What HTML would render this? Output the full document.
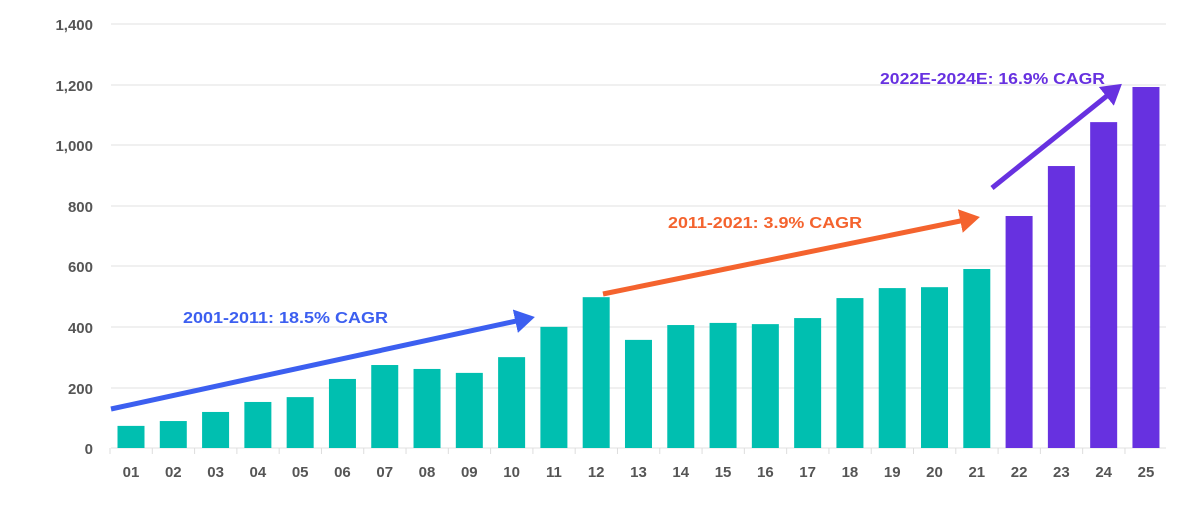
<!DOCTYPE html>
<html><head><meta charset="utf-8"><style>
html,body{margin:0;padding:0;background:#fff;}
svg{display:block;font-family:"Liberation Sans",Arial,sans-serif;}
</style></head><body>
<svg width="1198" height="506" viewBox="0 0 1198 506" xmlns="http://www.w3.org/2000/svg">
<g stroke="#e6e6e6" stroke-width="1.2">
<line x1="111" x2="1166" y1="24" y2="24"/>
<line x1="111" x2="1166" y1="85" y2="85"/>
<line x1="111" x2="1166" y1="145" y2="145"/>
<line x1="111" x2="1166" y1="206" y2="206"/>
<line x1="111" x2="1166" y1="266" y2="266"/>
<line x1="111" x2="1166" y1="327" y2="327"/>
<line x1="111" x2="1166" y1="388" y2="388"/>
<line x1="111" x2="1166" y1="448" y2="448"/>
</g>
<g fill="#555" font-size="15" font-weight="bold" text-anchor="end">
<text x="93" y="30">1,400</text>
<text x="93" y="91">1,200</text>
<text x="93" y="151">1,000</text>
<text x="93" y="212">800</text>
<text x="93" y="272">600</text>
<text x="93" y="333">400</text>
<text x="93" y="394">200</text>
<text x="93" y="454">0</text>
</g>
<g id="bars"></g>
<g id="labels" fill="#555" font-size="15" font-weight="bold" text-anchor="middle"></g>
<g id="ticks" stroke="#ddd"></g>
<defs>
<marker id="mb" markerWidth="6" markerHeight="6" refX="3" refY="3" orient="auto" markerUnits="strokeWidth"><path d="M0,0.6 L4,3 L0,5.4 z" fill="#3c5ff0"/></marker>
<marker id="mo" markerWidth="6" markerHeight="6" refX="3" refY="3" orient="auto" markerUnits="strokeWidth"><path d="M0,0.6 L4,3 L0,5.4 z" fill="#f4632e"/></marker>
<marker id="mp" markerWidth="6" markerHeight="6" refX="3" refY="3" orient="auto" markerUnits="strokeWidth"><path d="M0,0.6 L4,3 L0,5.4 z" fill="#6731e0"/></marker>
</defs>
<line x1="111" y1="409" x2="530" y2="318" stroke="#3c5ff0" stroke-width="5" marker-end="url(#mb)"/>
<line x1="603" y1="294" x2="975" y2="218" stroke="#f4632e" stroke-width="5" marker-end="url(#mo)"/>
<line x1="992" y1="188" x2="1118" y2="87" stroke="#6731e0" stroke-width="5" marker-end="url(#mp)"/>
<text x="183" y="323" fill="#3c5ff0" font-size="16" font-weight="bold" textLength="205" lengthAdjust="spacingAndGlyphs">2001-2011: 18.5% CAGR</text>
<text x="668" y="228" fill="#f4632e" font-size="16" font-weight="bold" textLength="194" lengthAdjust="spacingAndGlyphs">2011-2021: 3.9% CAGR</text>
<text x="880" y="84" fill="#6731e0" font-size="16" font-weight="bold" textLength="225" lengthAdjust="spacingAndGlyphs">2022E-2024E: 16.9% CAGR</text>
</svg>
<script>
var v=[73,89,119,152,168,228,274,261,248,300,400,498,357,406,413,409,429,495,528,531,591,766,931,1076,1192];
var ns="http://www.w3.org/2000/svg",b=document.getElementById("bars"),l=document.getElementById("labels"),t=document.getElementById("ticks");
v.forEach(function(d,i){var cx=131+42.29*i,h=d*0.30286;
var r=document.createElementNS(ns,"rect");r.setAttribute("x",cx-13.5);r.setAttribute("width",27);r.setAttribute("y",448-h);r.setAttribute("height",h);r.setAttribute("fill",i>=21?"#6731e0":"#00bfb0");b.appendChild(r);
var tx=document.createElementNS(ns,"text");tx.setAttribute("x",cx);tx.setAttribute("y",477);tx.textContent=(i+1<10?"0":"")+(i+1);l.appendChild(tx);
var k=document.createElementNS(ns,"line");k.setAttribute("x1",cx-21);k.setAttribute("x2",cx-21);k.setAttribute("y1",448);k.setAttribute("y2",454);t.appendChild(k);});
</script>
</body></html>
